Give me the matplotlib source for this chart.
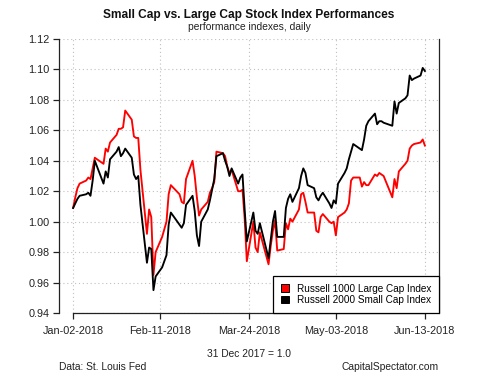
import numpy as np
import pandas as pd
import matplotlib
matplotlib.use('Agg')
import matplotlib.pyplot as plt
import matplotlib.dates as mdates
from matplotlib.patches import Patch

plt.rcParams['font.family'] = ['Liberation Sans', 'DejaVu Sans']

# trading days, Jan 2 - Jun 13 2018 (NYSE holidays removed)
holidays = ['2018-01-15', '2018-02-19', '2018-03-30', '2018-05-28']
dates = pd.bdate_range('2018-01-02', '2018-06-13')
dates = dates[~dates.isin(pd.to_datetime(holidays))]

# Russell 1000 Large Cap Index (31 Dec 2017 = 1.0)
r1000 = [
    # Jan
    1.009, 1.016, 1.022, 1.025, 1.027, 1.029, 1.028, 1.035, 1.042, 1.038, 1.048,
    1.046, 1.052, 1.057, 1.061, 1.061, 1.062, 1.073, 1.067, 1.056, 1.055,
    # Feb
    1.055, 1.034, 0.992, 1.008, 1.003, 0.965, 0.980, 0.990, 0.995, 1.000,
    1.018, 1.024, 1.018, 1.013, 1.012, 1.028, 1.040, 1.030, 1.016,
    # Mar
    1.004, 1.008, 1.013, 1.019, 1.022, 1.026, 1.046, 1.045, 1.043, 1.036, 1.032,
    1.034, 1.020, 1.020, 1.021, 1.002, 0.974, 1.000, 0.983, 0.980, 0.993,
    # Apr
    0.972, 0.984, 0.994, 1.001, 0.981, 0.982, 0.999, 0.995, 1.002, 1.000, 1.008,
    1.018, 1.019, 1.013, 1.006, 1.006, 0.994, 0.993, 1.003, 1.005, 1.000,
    # May
    0.999, 1.000, 0.991, 1.003, 1.006, 1.008, 1.012, 1.027, 1.029, 1.029, 1.023,
    1.026, 1.024, 1.024, 1.031, 1.030, 1.032, 1.031, 1.030, 1.016, 1.028, 1.022,
    # Jun
    1.033, 1.038, 1.040, 1.048, 1.050, 1.051, 1.052, 1.054, 1.050,
]

# Russell 2000 Small Cap Index
r2000 = [
    # Jan
    1.009, 1.012, 1.015, 1.017, 1.018, 1.019, 1.017, 1.027, 1.040, 1.025, 1.033,
    1.029, 1.041, 1.046, 1.049, 1.043, 1.045, 1.048, 1.042, 1.031, 1.028,
    # Feb
    1.030, 1.011, 0.973, 0.983, 0.982, 0.955, 0.964, 0.970, 0.974, 0.978,
    0.998, 1.006, 0.998, 0.996, 0.999, 1.011, 1.017, 1.007, 0.991,
    # Mar
    0.984, 1.000, 1.008, 1.014, 1.021, 1.028, 1.043, 1.045, 1.040, 1.036, 1.030,
    1.035, 1.025, 1.029, 1.031, 1.008, 0.987, 1.006, 0.994, 0.992, 0.999,
    # Apr
    0.976, 0.988, 1.000, 1.007, 0.990, 0.990, 1.009, 1.015, 1.018, 1.013, 1.022,
    1.030, 1.035, 1.032, 1.024, 1.022, 1.016, 1.014, 1.017, 1.019, 1.012,
    # May
    1.009, 1.014, 1.012, 1.025, 1.032, 1.035, 1.041, 1.046, 1.051, 1.048, 1.047,
    1.054, 1.063, 1.066, 1.071, 1.064, 1.066, 1.066, 1.065, 1.063, 1.079, 1.071,
    # Jun
    1.078, 1.081, 1.083, 1.096, 1.093, 1.094, 1.096, 1.101, 1.099,
]

xtick_dates = ['2018-01-02', '2018-02-11', '2018-03-24', '2018-05-03', '2018-06-13']
yticks = [0.94, 0.96, 0.98, 1.00, 1.02, 1.04, 1.06, 1.08, 1.10, 1.12]
labels = ['Russell 1000 Large Cap Index', 'Russell 2000 Small Cap Index']
colors = ['#ff0000', '#000000']

W, H = 500, 375
fig = plt.figure(figsize=(W / 100, H / 100), dpi=100)
ax = fig.add_axes([59 / W, 1 - 313 / H, 380 / W, 274 / H])

xt = pd.to_datetime(xtick_dates)
pad = pd.Timedelta(days=6.5)
ax.set_xlim(xt[0] - pad, xt[-1] + pad)
ax.set_ylim(0.94, 1.12)

ax.plot(dates, r1000, color=colors[0], lw=1.35, zorder=3)
ax.plot(dates, r2000, color=colors[1], lw=1.35, zorder=3)

ax.set_xticks(xt)
ax.xaxis.set_major_formatter(mdates.DateFormatter('%b-%d-%Y'))
ax.set_yticks(yticks)
ax.set_yticklabels(['%.2f' % v for v in yticks])
ax.grid(True, color='#c0c0c0', linestyle=(0, (1, 2.5)), lw=0.8, zorder=0)
ax.tick_params(direction='out', length=4.5, width=0.9, labelsize=7.8,
               colors='#222222', labelcolor='#222222')
ax.tick_params(axis='x', pad=4.5)
ax.tick_params(axis='y', pad=2.5)

ax.spines['top'].set_visible(False)
for s in ['left', 'right', 'bottom']:
    ax.spines[s].set_color('#222222')
    ax.spines[s].set_linewidth(0.9)
ax.spines['bottom'].set_bounds(mdates.date2num(xt[0]), mdates.date2num(xt[-1]))

handles = [Patch(facecolor=c, edgecolor='black', lw=0.7) for c in colors]
leg = ax.legend(handles, labels, loc='lower right', fontsize=7.2,
                frameon=True, fancybox=False, framealpha=1, edgecolor='black',
                borderaxespad=0, handlelength=0.75, handleheight=0.75,
                handletextpad=0.8, labelspacing=0.15, borderpad=0.8)
leg.get_frame().set_linewidth(0.9)

fig.text(249 / W, 1 - 15 / H, 'Small Cap vs. Large Cap Stock Index Performances',
         ha='center', va='center', fontsize=8.6, fontweight='bold', color='#111111')
fig.text(249 / W, 1 - 27 / H, 'performance indexes, daily',
         ha='center', va='center', fontsize=7.4, color='#222222')
fig.text(249 / W, 1 - 354 / H, '31 Dec 2017 = 1.0',
         ha='center', va='center', fontsize=7.4, color='#222222')
fig.text(59 / W, 1 - 367 / H, 'Data: St. Louis Fed',
         ha='left', va='center', fontsize=7.4, color='#222222')
fig.text(439 / W, 1 - 367 / H, 'CapitalSpectator.com',
         ha='right', va='center', fontsize=7.4, color='#222222')

fig.savefig('out.png', dpi=100)
